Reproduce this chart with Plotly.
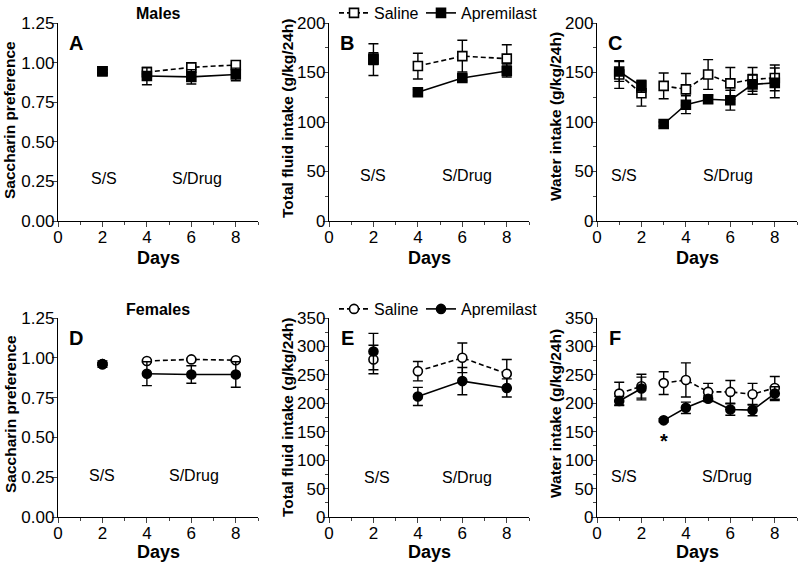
import plotly.graph_objects as go

FONT = "Liberation Sans, Arial, sans-serif"

# ---- data ----
DAYS_PREF = [2, 4, 6, 8]           # saccharin preference / total fluid
DAYS_WATER = [1, 2, 3, 4, 5, 6, 7, 8]

# Males
A_SAL = [0.945, 0.94, 0.97, 0.985]
A_SAL_ERR = [0.01, 0.012, 0.01, 0.008]
A_APR = [0.945, 0.915, 0.91, 0.925]
A_APR_ERR = [0.012, 0.055, 0.045, 0.04]

B_SAL = [163, 156.5, 166.5, 164]
B_SAL_ERR = [16, 13, 16, 14]
B_APR = [164, 130, 144.5, 151.5]
B_APR_ERR = [6, 3, 3, 6]

C_SAL = [148, 129, 136.5, 133, 148, 139, 143, 144.5]
C_SAL_ERR = [14, 13, 13, 16, 15, 16, 12, 13]
C_APR = [151, 136, 98, 117.5, 123, 122, 138, 139.5]
C_APR_ERR = [10, 6, 2, 9, 4, 10, 10, 15]

# Females
D_SAL = [0.96, 0.98, 0.99, 0.985]
D_SAL_ERR = [0.01, 0.008, 0.006, 0.006]
D_APR = [0.96, 0.90, 0.895, 0.895]
D_APR_ERR = [0.02, 0.075, 0.055, 0.08]

E_SAL = [277, 256.5, 280, 252]
E_SAL_ERR = [25, 17, 26, 25]
E_APR = [291, 212, 239, 227]
E_APR_ERR = [32, 16, 24, 16]

F_SAL = [217, 230, 235.5, 241, 220, 220, 216, 227]
F_SAL_ERR = [20, 21, 20, 30, 15, 20, 19, 20]
F_APR = [204, 226, 170, 192, 208, 189, 188, 217]
F_APR_ERR = [8, 20, 3, 10, 5, 10, 10, 12]

# panel: (letter, days, split index, sal, sal_err, apr, apr_err, ymax, dtick, ytitle, symbol)
PANELS = [
    ("A", DAYS_PREF, 1, A_SAL, A_SAL_ERR, A_APR, A_APR_ERR, 1.25, 0.25, "Saccharin preference", "square"),
    ("B", DAYS_PREF, 1, B_SAL, B_SAL_ERR, B_APR, B_APR_ERR, 200, 50, "Total fluid intake (g/kg/24h)", "square"),
    ("C", DAYS_WATER, 2, C_SAL, C_SAL_ERR, C_APR, C_APR_ERR, 200, 50, "Water intake (g/kg/24h)", "square"),
    ("D", DAYS_PREF, 1, D_SAL, D_SAL_ERR, D_APR, D_APR_ERR, 1.25, 0.25, "Saccharin preference", "circle"),
    ("E", DAYS_PREF, 1, E_SAL, E_SAL_ERR, E_APR, E_APR_ERR, 350, 50, "Total fluid intake (g/kg/24h)", "circle"),
    ("F", DAYS_WATER, 2, F_SAL, F_SAL_ERR, F_APR, F_APR_ERR, 350, 50, "Water intake (g/kg/24h)", "circle"),
]
# label positions (x in days, y in data units)
SS_POS = [(2.05, 0.27), (2.0, 46), (1.2, 46), (2.0, 0.26), (2.15, 70), (1.2, 72)]
DRUG_POS = [(6.25, 0.27), (6.2, 46), (5.9, 46), (6.1, 0.26), (6.2, 70), (5.85, 72)]

W, H = 800, 568
X_DOM = [(58, 258), (329, 529), (597, 797)]
Y_DOM = [(23, 221), (318, 517)]
YTITLE_X = [10, 287, 555]
YTITLE_Y = [[120, 118, 117], [414, 417, 414]]
DAYS_Y = [258, 552]

fig = go.Figure()
layout = {}
annotations = []


def note(text, x, y, size, bold=False, xref="paper", yref="paper", angle=0):
    if xref == "paper":
        x = x / W
    if yref == "paper":
        y = 1 - y / H
    annotations.append(dict(text="<b>%s</b>" % text if bold else text, x=x, y=y, xref=xref, yref=yref,
                            xanchor="center", yanchor="middle", textangle=angle, showarrow=False,
                            font=dict(size=size, color="black")))


for i, (letter, days, split, sal, sal_e, apr, apr_e, ymax, dtick, ytitle, sym) in enumerate(PANELS):
    row, col = divmod(i, 3)
    n = "" if i == 0 else str(i + 1)
    xa, ya = "x" + n, "y" + n
    for name, vals, errs, dash, fill in [("Saline", sal, sal_e, "dash", "white"),
                                         ("Apremilast", apr, apr_e, "solid", "black")]:
        for seg, sl in enumerate([slice(0, split), slice(split, None)]):
            show = seg == 1 and letter in ("B", "E")
            fig.add_trace(go.Scatter(
                x=days[sl], y=vals[sl], mode="lines+markers", name=name,
                xaxis=xa, yaxis=ya,
                line=dict(color="black", width=1.6, dash="5px,3px" if dash == "dash" else "solid"),
                marker=dict(symbol=sym, size=9, color=fill, line=dict(color="black", width=1.6)),
                error_y=dict(type="data", array=errs[sl], color="black", thickness=1.4, width=5),
                showlegend=show, legend="legend" if letter == "B" else "legend2",
                legendwidth=42 if name == "Saline" else None,
            ))
    x0, x1 = X_DOM[col]
    y0, y1 = Y_DOM[row]
    layout["xaxis" + n] = dict(
        domain=[x0 / W, x1 / W], anchor=ya, range=[0, 9], tickvals=[0, 2, 4, 6, 8],
        ticks="outside", ticklen=5, tickwidth=1.3, showline=True, linecolor="black", linewidth=1.3,
        showgrid=False, zeroline=False, tickfont=dict(size=17, color="black"), automargin=False,
        ticklabelstandoff=-5,
        minor=dict(dtick=1, tick0=0, ticks="outside", ticklen=3, tickwidth=1.2, showgrid=False),
    )
    ticks = [round(k * dtick, 2) for k in range(int(round(ymax / dtick)) + 1)]
    fmt = ".2f" if dtick < 1 else "d"
    layout["yaxis" + n] = dict(
        domain=[1 - y1 / H, 1 - y0 / H], anchor=xa, range=[0, ymax], tickvals=ticks, tickformat=fmt,
        ticks="outside", ticklen=5, tickwidth=1.3, showline=True, linecolor="black", linewidth=1.3,
        showgrid=False, zeroline=False, tickfont=dict(size=17, color="black"), automargin=False,
        ticklabelstandoff=-6,
    )
    if dtick >= 1:
        layout["yaxis" + n]["minor"] = dict(dtick=dtick / 2, ticks="outside", ticklen=3,
                                            tickwidth=1.2, showgrid=False)

    note(ytitle, YTITLE_X[col], YTITLE_Y[row][col], 15.5, bold=True, angle=-90)
    note("Days", (x0 + x1) / 2, DAYS_Y[row], 18, bold=True)
    note(letter, 0.09, 0.9, 20, bold=True, xref="x%s domain" % n, yref="y%s domain" % n)
    note("S/S", SS_POS[i][0], SS_POS[i][1], 16, xref=xa, yref=ya)
    note("S/Drug", DRUG_POS[i][0], DRUG_POS[i][1], 16, xref=xa, yref=ya)

note("*", 3, 133, 20, bold=True, xref="x6", yref="y6")
note("Males", 158, 13, 16, bold=True)
note("Females", 158, 309, 16, bold=True)

leg = dict(orientation="h", xanchor="left", yanchor="middle", font=dict(size=16, color="black"),
           bgcolor="rgba(0,0,0,0)", itemwidth=30, tracegroupgap=0)
fig.update_layout(
    width=W, height=H, margin=dict(l=0, r=0, t=0, b=0, autoexpand=False),
    paper_bgcolor="white", plot_bgcolor="white",
    font=dict(family=FONT, color="black"),
    legend=dict(leg, x=334 / W, y=1 - 13 / H),
    legend2=dict(leg, x=334 / W, y=1 - 309 / H),
    annotations=annotations,
    **layout,
)
fig.write_html("out.html", config={"displayModeBar": False},
               post_script="document.body.style.margin='0px';")
